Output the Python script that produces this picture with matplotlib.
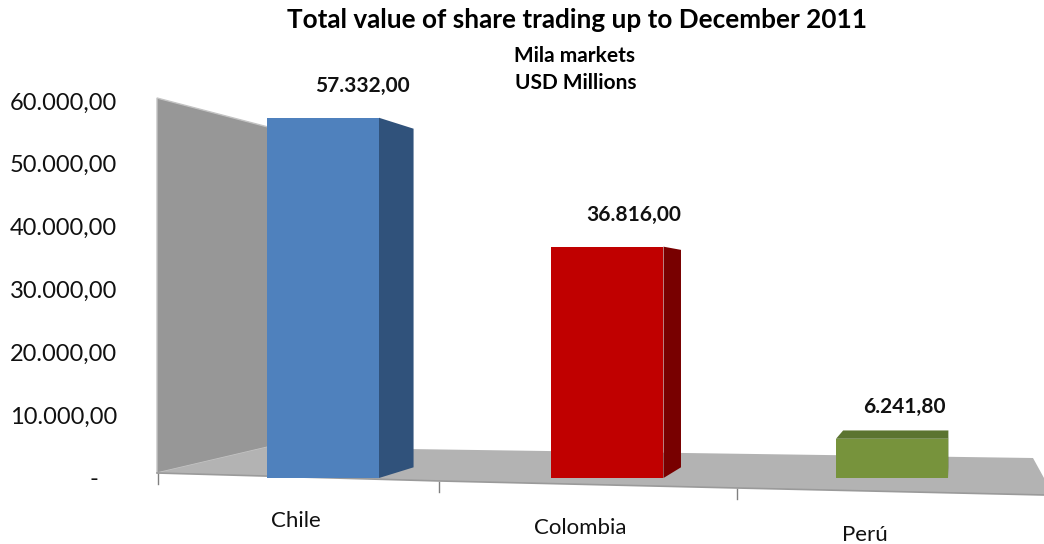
import numpy as np
import matplotlib
matplotlib.use("Agg")
import matplotlib.pyplot as plt
from matplotlib.patches import Polygon

plt.rcParams['font.family'] = ['Lato', 'DejaVu Sans']

# ---- data ----
countries = ["Chile", "Colombia", "Perú"]
values = [57332.00, 36816.00, 6241.80]
value_labels = ["57.332,00", "36.816,00", "6.241,80"]
ytick_values = [0, 10000, 20000, 30000, 40000, 50000, 60000]
ytick_labels = ["-   ", "10.000,00", "20.000,00", "30.000,00",
                "40.000,00", "50.000,00", "60.000,00"]

front_colors = ["#4f81bd", "#c00000", "#77933c"]
side_colors = ["#30527b", "#780000", "#5b7430"]

W, H = 1044, 544
fig = plt.figure(figsize=(W / 100, H / 100), dpi=100)
# axes placed so that 0 sits on pixel row 478 and 60000 on row 101
ax = fig.add_axes([157 / W, (H - 478) / H, (W - 157) / W, 377 / H])
ax.set_ylim(0, 60000)
ax.set_xlim(-0.5835, 2.5343)
for s in ax.spines.values():
    s.set_visible(False)
ax.set_xticks([])
ax.set_yticks(ytick_values, ytick_labels)
ax.tick_params(axis='y', length=0, pad=28.8, labelsize=17, labelcolor='#111111')


def to_data(pts):
    # picture pixels (origin top-left) -> data coords
    disp = [(x, H - y) for x, y in pts]
    return ax.transData.inverted().transform(disp)


def to_px(x, y):
    dx, dy = ax.transData.transform((x, y))
    return dx, H - dy


# fake 3d: one point perspective
VP = (955.0, 300.0)
DEPTH = 0.06


def recede(p):
    return (p[0] + DEPTH * (VP[0] - p[0]), p[1] + DEPTH * (VP[1] - p[1]))


# back wall and floor
wall = [(157, 98), (268, 127), (268, 447), (157, 473)]
ax.add_patch(Polygon(to_data(wall), closed=True, facecolor='#979797',
                     edgecolor='#c4c4c4', lw=1, clip_on=False, zorder=1))
edge = [(157, 473), (440, 481), (737, 488), (1044, 495)]
floor = [(157, 473), (268, 447), (1033, 458), (1044, 478)] + edge[::-1]
ax.add_patch(Polygon(to_data(floor), closed=True, facecolor='#b3b3b3',
                     edgecolor='none', clip_on=False, zorder=1))
e = to_data(edge)
ax.plot(e[:, 0], e[:, 1], color='#9a9a9a', lw=1.2, clip_on=False, zorder=2)
for tx in [158, 439, 737]:
    ty = np.interp(tx, [p[0] for p in edge], [p[1] for p in edge])
    t = to_data([(tx, ty + 1), (tx, ty + 11)])
    ax.plot(t[:, 0], t[:, 1], color='#808080', lw=1, clip_on=False, zorder=2)

# bars
x = np.arange(len(values))
bars = ax.bar(x, values, width=112 / 284.5, color=front_colors, zorder=4)

for i, b in enumerate(bars):
    xl, yt = to_px(b.get_x(), b.get_height())
    xr, yb = to_px(b.get_x() + b.get_width(), 0)
    if xr < VP[0]:
        side = [(xr, yt), recede((xr, yt)), recede((xr, yb)), (xr, yb)]
        ax.add_patch(Polygon(to_data(side), closed=True, facecolor=side_colors[i],
                             edgecolor='none', clip_on=False, zorder=3))
    if yt > VP[1]:
        top = [(xl, yt), (xr, yt), recede((xr, yt)), recede((xl, yt))]
        ax.add_patch(Polygon(to_data(top), closed=True, facecolor=side_colors[i],
                             edgecolor='none', clip_on=False, zorder=3))
    dx = max(DEPTH * (VP[0] - xr), 0)
    lx = (xl + xr) / 2 + dx * 0.8 + 12
    ly = yt - 32
    p = to_data([(lx, ly)])[0]
    ax.text(p[0], p[1], value_labels[i], ha='center', va='center',
            fontsize=15, fontweight='bold', color='#111111')
    # category label under the slanted floor edge
    cx = (xl + xr) / 2 - 27
    cy = np.interp(cx, [q[0] for q in edge], [q[1] for q in edge]) + 44
    c = to_data([(cx, cy)])[0]
    ax.text(c[0], c[1], countries[i], ha='center', va='center',
            fontsize=16, color='#111111', clip_on=False)

fig.text(577 / W, 1 - 20 / H, "Total value of share trading up to December 2011",
         ha='center', va='center', fontsize=18.8, fontweight='bold')
fig.text(575 / W, 1 - 56 / H, "Mila markets", ha='center', va='center',
         fontsize=15, fontweight='bold')
fig.text(576 / W, 1 - 83 / H, "USD Millions", ha='center', va='center',
         fontsize=15, fontweight='bold')

fig.savefig("out.png", dpi=100)
